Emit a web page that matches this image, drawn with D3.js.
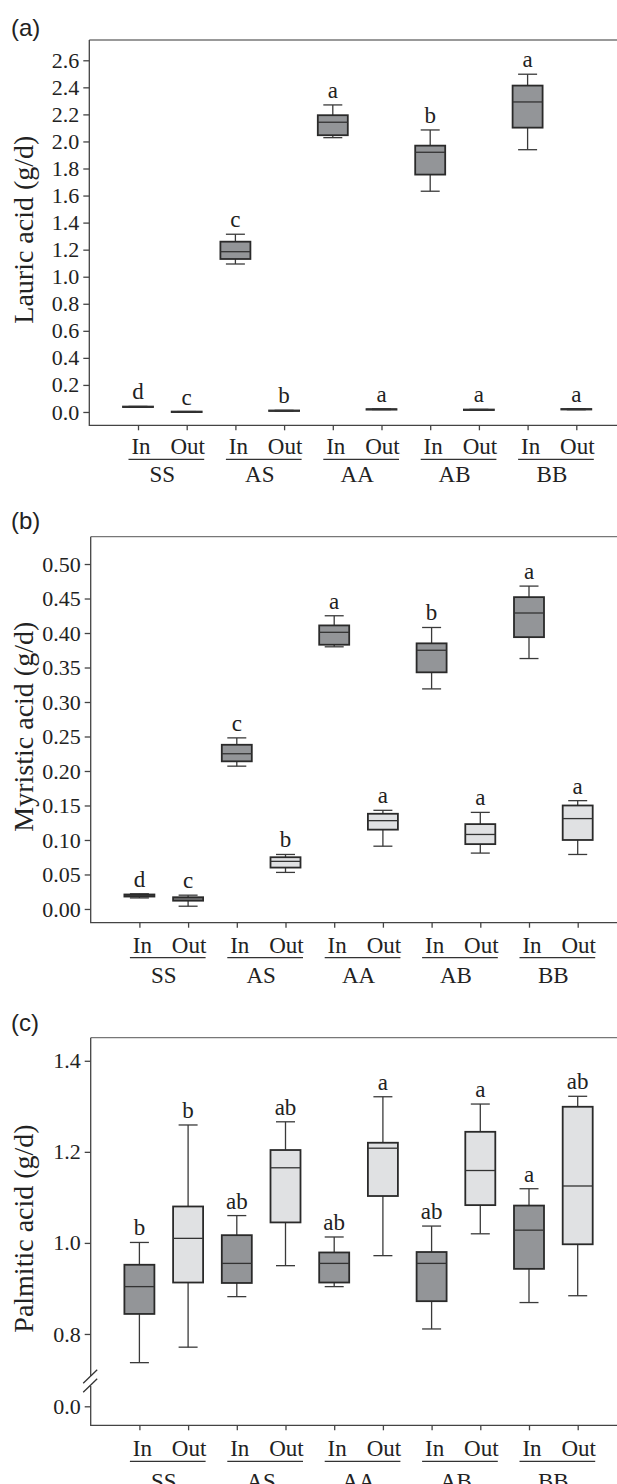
<!DOCTYPE html>
<html>
<head>
<meta charset="utf-8">
<script src="https://cdn.jsdelivr.net/npm/d3@7"></script>
<style>
  body { margin: 0; background: #fff; }
  svg { display: block; }
  .tick text { font-family: "Liberation Serif", "Times New Roman", serif; font-size: 22px; fill: #222; }
  .tick line { stroke: #444; stroke-width: 1.3; }
</style>
</head>
<body>
<svg id="fig" width="617" height="1484"></svg>
<script>
const groups = ["SS", "AS", "AA", "AB", "BB"];
const sites = ["In", "Out"];
const categories = groups.flatMap((g) => sites.map((s) => g + " " + s));

// each box: [min, q1, median, q3, max], same order as categories
const lauric = [
  [0.037, 0.038, 0.039, 0.040, 0.041],
  [0.001, 0.002, 0.002, 0.003, 0.003],
  [1.094, 1.131, 1.185, 1.259, 1.314],
  [0.008, 0.009, 0.010, 0.011, 0.012],
  [2.028, 2.046, 2.142, 2.194, 2.270],
  [0.018, 0.019, 0.020, 0.021, 0.022],
  [1.632, 1.755, 1.920, 1.969, 2.085],
  [0.015, 0.016, 0.017, 0.018, 0.019],
  [1.939, 2.102, 2.292, 2.413, 2.497],
  [0.017, 0.019, 0.020, 0.022, 0.023]
];
const lauricLetters = ["d", "c", "c", "b", "a", "a", "b", "a", "a", "a"];
const lauricTicks = d3.range(0, 2.61, 0.2);

const myristic = [
  [0.016, 0.018, 0.0195, 0.021, 0.022],
  [0.004, 0.012, 0.0145, 0.017, 0.020],
  [0.207, 0.214, 0.225, 0.238, 0.248],
  [0.053, 0.060, 0.069, 0.075, 0.079],
  [0.380, 0.383, 0.401, 0.411, 0.425],
  [0.091, 0.115, 0.128, 0.138, 0.143],
  [0.319, 0.343, 0.375, 0.385, 0.408],
  [0.081, 0.094, 0.108, 0.123, 0.140],
  [0.363, 0.394, 0.429, 0.452, 0.468],
  [0.079, 0.100, 0.131, 0.150, 0.157]
];
const myristicLetters = ["d", "c", "c", "b", "a", "a", "b", "a", "a", "a"];
const myristicTicks = d3.range(0, 0.501, 0.05);

const palmitic = [
  [0.737, 0.844, 0.904, 0.952, 1.001],
  [0.771, 0.913, 1.010, 1.080, 1.259],
  [0.882, 0.912, 0.955, 1.017, 1.060],
  [0.950, 1.045, 1.165, 1.204, 1.266],
  [0.904, 0.913, 0.955, 0.979, 1.013],
  [0.972, 1.103, 1.208, 1.220, 1.321],
  [0.811, 0.872, 0.955, 0.980, 1.037],
  [1.020, 1.083, 1.159, 1.244, 1.305],
  [0.869, 0.943, 1.028, 1.082, 1.119],
  [0.884, 0.997, 1.125, 1.299, 1.322]
];
const palmiticLetters = ["b", "b", "ab", "ab", "ab", "a", "ab", "a", "a", "ab"];
const palmiticTicks = [0.0, 0.8, 1.0, 1.2, 1.4];

const svg = d3.select("#fig");
const serif = '"Liberation Serif", "Times New Roman", serif';
const darkFill = "#939598";
const lightFill = "#e0e1e3";

const panels = [
  {
    tag: "(a)", title: "Lauric acid (g/d)", stats: lauric, letters: lauricLetters,
    ticks: lauricTicks, fmt: d3.format(".1f"),
    left: 89.3, top: 40, bottom: 425.3, tagY: 35.5, labDy: [29, 34, 57],
    y: d3.scaleLinear().domain([-0.0985, 2.75]).range([425.3, 40])
  },
  {
    tag: "(b)", title: "Myristic acid (g/d)", stats: myristic, letters: myristicLetters,
    ticks: myristicTicks, fmt: d3.format(".2f"),
    left: 90.7, top: 536.7, bottom: 922.7, tagY: 528.5, labDy: [30, 35, 60],
    y: d3.scaleLinear().domain([-0.0199, 0.5396]).range([922.7, 536.7])
  },
  {
    tag: "(c)", title: "Palmitic acid (g/d)", stats: palmitic, letters: palmiticLetters,
    ticks: palmiticTicks, fmt: d3.format(".1f"),
    left: 90.7, top: 1037.7, bottom: 1425.3, tagY: 1030.5, labDy: [31, 36, 64], broken: true,
    // broken axis: 0 to 0.7 squeezed below the break
    y: d3.scaleLinear().domain([-0.05, 0, 0.7, 1.4507]).range([1425.3, 1406.3, 1379.5, 1037.7])
  }
];

panels.forEach((p) => {
  const g = svg.append("g");
  const right = p.left + 11 * 48.7;
  const x = d3.scalePoint().domain(categories).range([p.left, right]).padding(1);
  const y = p.y;

  // panel tag
  g.append("text")
    .attr("x", 11)
    .attr("y", p.tagY)
    .attr("font-family", '"Liberation Sans", Arial, sans-serif')
    .attr("font-size", 24)
    .attr("fill", "#222")
    .text(p.tag);

  // y title
  g.append("text")
    .attr("transform", `translate(33, ${(p.top + p.bottom) / 2 - 3}) rotate(-90)`)
    .attr("text-anchor", "middle")
    .attr("font-family", serif)
    .attr("font-size", 28)
    .attr("fill", "#222")
    .text(p.title);

  // y axis ticks
  const yAxis = g.append("g")
    .attr("transform", `translate(${p.left},0)`)
    .call(d3.axisLeft(y).tickValues(p.ticks).tickFormat(p.fmt).tickSize(6).tickPadding(4));
  yAxis.select(".domain").remove();

  // x axis ticks
  const xAxis = g.append("g")
    .attr("transform", `translate(0,${p.bottom})`)
    .call(d3.axisBottom(x).tickSize(5).tickFormat(""));
  xAxis.select(".domain").remove();

  // frame: top, left, bottom
  g.append("path")
    .attr("d", `M${right},${p.top}H${p.left}`)
    .attr("fill", "none")
    .attr("stroke", "#777")
    .attr("stroke-width", 1.3);
  g.append("path")
    .attr("d", `M${p.left},${p.top}V${p.bottom}H${right}`)
    .attr("fill", "none")
    .attr("stroke", "#444")
    .attr("stroke-width", 1.3);

  if (p.broken) {
    const yb = y(0.7) + 1.5;
    g.append("rect")
      .attr("x", p.left - 3)
      .attr("y", yb - 5)
      .attr("width", 6)
      .attr("height", 10)
      .attr("fill", "#fff");
    [-4.5, 4.5].forEach((dy) => {
      g.append("line")
        .attr("x1", p.left - 7.5).attr("y1", yb + dy + 6.7)
        .attr("x2", p.left + 6.5).attr("y2", yb + dy - 6.7)
        .attr("stroke", "#333")
        .attr("stroke-width", 1.3);
    });
  }

  // boxes
  const bw = 30;
  const cw = 19;
  const box = g.selectAll(".box")
    .data(p.stats)
    .join("g")
    .attr("class", "box")
    .attr("transform", (d, i) => `translate(${x(categories[i])},0)`);

  box.append("line")
    .attr("y1", (d) => y(d[0])).attr("y2", (d) => y(d[4]))
    .attr("stroke", "#3a3a3a").attr("stroke-width", 1.3);
  box.append("line")
    .attr("x1", -cw / 2).attr("x2", cw / 2)
    .attr("y1", (d) => y(d[4])).attr("y2", (d) => y(d[4]))
    .attr("stroke", "#3a3a3a").attr("stroke-width", 1.3);
  box.append("line")
    .attr("x1", -cw / 2).attr("x2", cw / 2)
    .attr("y1", (d) => y(d[0])).attr("y2", (d) => y(d[0]))
    .attr("stroke", "#3a3a3a").attr("stroke-width", 1.3);
  box.append("rect")
    .attr("x", -bw / 2)
    .attr("width", bw)
    .attr("y", (d) => y(d[3]))
    .attr("height", (d) => Math.max(0.5, y(d[1]) - y(d[3])))
    .attr("fill", (d, i) => (i % 2 === 0 ? darkFill : lightFill))
    .attr("stroke", "#2a2a2a")
    .attr("stroke-width", 1.8);
  box.append("line")
    .attr("x1", -bw / 2).attr("x2", bw / 2)
    .attr("y1", (d) => y(d[2])).attr("y2", (d) => y(d[2]))
    .attr("stroke", "#333").attr("stroke-width", 1.3);

  // significance letters
  box.append("text")
    .attr("y", (d) => y(d[4]) - 7)
    .attr("text-anchor", "middle")
    .attr("font-family", serif)
    .attr("font-size", 23)
    .attr("fill", "#222")
    .text((d, i) => p.letters[i]);

  // In / Out labels with underlined group names
  categories.forEach((c, i) => {
    g.append("text")
      .attr("x", x(c) + (i % 2 === 0 ? 3 : 1))
      .attr("y", p.bottom + p.labDy[0])
      .attr("text-anchor", "middle")
      .attr("font-family", serif)
      .attr("font-size", 23)
      .attr("fill", "#222")
      .text(sites[i % 2]);
  });
  groups.forEach((grp) => {
    const xi = x(grp + " In");
    const xo = x(grp + " Out");
    g.append("line")
      .attr("x1", xi - 9.5).attr("x2", xo + 17.5)
      .attr("y1", p.bottom + p.labDy[1]).attr("y2", p.bottom + p.labDy[1])
      .attr("stroke", "#333").attr("stroke-width", 1.3);
    g.append("text")
      .attr("x", (xi + xo) / 2)
      .attr("y", p.bottom + p.labDy[2])
      .attr("text-anchor", "middle")
      .attr("font-family", serif)
      .attr("font-size", 23)
      .attr("fill", "#222")
      .text(grp);
  });
});
</script>
</body>
</html>
